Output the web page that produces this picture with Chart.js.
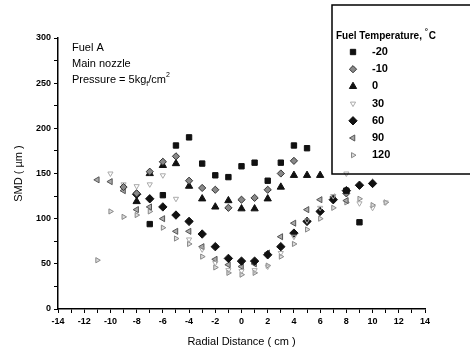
<!DOCTYPE html>
<html>
<head>
<meta charset="utf-8">
<script src="https://cdn.jsdelivr.net/npm/chart.js@4/dist/chart.umd.min.js"></script>
<style>
  body { margin: 0; background: #fff; }
  #wrap { width: 470px; height: 355px; }
</style>
</head>
<body>
<div id="wrap"><canvas id="smdChart" width="470" height="355"></canvas></div>
<script>
// series data: radial position (cm) and SMD (um) per fuel temperature
var tempLabels = ['-20', '-10', '0', '30', '60', '90', '120'];

var xM20 = [-7, -6, -5, -4, -3, -2, -1, 0, 1, 2, 3, 4, 5, 8, 9];
var yM20 = [94, 126, 181, 190, 161, 148, 146, 158, 162, 142, 162, 181, 178, 131, 96];

var xM10 = [-9, -8, -7, -6, -5, -4, -3, -2, -1, 0, 1, 2, 3, 4, 8];
var yM10 = [135, 128, 152, 163, 169, 142, 134, 132, 112, 121, 123, 132, 150, 164, 128];

var x0 = [-8, -7, -6, -5, -4, -3, -2, -1, 0, 1, 2, 3, 4, 5, 6];
var y0 = [119, 150, 159, 161, 136, 122, 113, 120, 111, 111, 122, 135, 148, 148, 148];

var x30 = [-10, -9, -8, -7, -6, -5, -4, -3, -2, -1, 0, 1, 2, 3, 4, 5, 6, 7, 8, 9, 10, 11];
var y30 = [150, 138, 136, 138, 148, 122, 77, 66, 51, 43, 42, 43, 47, 62, 80, 98, 112, 125, 150, 117, 112, 118];

var x60 = [-8, -7, -6, -5, -4, -3, -2, -1, 0, 1, 2, 3, 4, 5, 6, 7, 8, 9, 10];
var y60 = [127, 122, 113, 104, 97, 83, 69, 56, 53, 53, 60, 69, 84, 97, 108, 121, 131, 137, 139];

var x90 = [-11, -10, -9, -8, -7, -6, -5, -4, -3, -2, -1, 0, 1, 2, 3, 4, 5, 6, 7, 8];
var y90 = [143, 141, 131, 110, 113, 100, 86, 86, 69, 55, 49, 47, 50, 62, 80, 95, 110, 121, 124, 120];

var x120 = [-11, -10, -9, -8, -7, -6, -5, -4, -3, -2, -1, 0, 1, 2, 3, 4, 5, 6, 7, 8, 9, 10, 11];
var y120 = [54, 108, 102, 104, 108, 90, 78, 72, 58, 46, 40, 38, 40, 48, 58, 72, 88, 100, 112, 118, 122, 115, 118];

var xTicks = [-14, -12, -10, -8, -6, -4, -2, 0, 2, 4, 6, 8, 10, 12, 14];
var yTicks = [0, 50, 100, 150, 200, 250, 300];

function pts(xs, ys) {
  return xs.map(function (x, i) { return {x: x, y: ys[i]}; });
}

var styles = [
  {pointStyle: 'rect', radius: 3.8, bg: '#111', border: '#111', rot: 0},
  {pointStyle: 'rectRot', radius: 3.6, bg: '#888', border: '#333', rot: 0},
  {pointStyle: 'triangle', radius: 4.2, bg: '#111', border: '#111', rot: 0},
  {pointStyle: 'triangle', radius: 3, bg: 'rgba(0,0,0,0)', border: '#aaa', rot: 180},
  {pointStyle: 'rectRot', radius: 4.2, bg: '#111', border: '#111', rot: 0},
  {pointStyle: 'triangle', radius: 3.5, bg: '#aaa', border: '#555', rot: -90},
  {pointStyle: 'triangle', radius: 3, bg: '#ddd', border: '#888', rot: 90}
];

var seriesX = [xM20, xM10, x0, x30, x60, x90, x120];
var seriesY = [yM20, yM10, y0, y30, y60, y90, y120];

var datasets = tempLabels.map(function (lbl, i) {
  var s = styles[i];
  return {
    label: lbl,
    data: pts(seriesX[i], seriesY[i]),
    pointStyle: s.pointStyle,
    pointRadius: s.radius,
    pointRotation: s.rot,
    backgroundColor: s.bg,
    borderColor: s.border,
    borderWidth: 1,
    showLine: false
  };
});

var font = "'Liberation Sans', Arial, sans-serif";

// legend box and in-plot notes
var notesPlugin = {
  id: 'notes',
  afterDraw: function (chart) {
    var ctx = chart.ctx;
    ctx.save();
    ctx.fillStyle = '#000';
    ctx.textBaseline = 'middle';
    ctx.textAlign = 'left';
    ctx.font = '11px ' + font;
    ctx.fillText('Fuel A', 72, 48);
    ctx.fillText('Main nozzle', 72, 64);
    var t = 'Pressure = 5kg';
    ctx.fillText(t, 72, 80);
    var w = ctx.measureText(t).width;
    ctx.font = '7px ' + font;
    ctx.fillText('f', 72 + w, 84);
    var wf = ctx.measureText('f').width;
    ctx.font = '11px ' + font;
    ctx.fillText('/cm', 72 + w + wf, 80);
    var w2 = ctx.measureText('/cm').width;
    ctx.font = '7px ' + font;
    ctx.fillText('2', 72 + w + wf + w2, 75);

    // legend box and title
    ctx.strokeStyle = '#000';
    ctx.lineWidth = 1.5;
    ctx.strokeRect(332, 5, 150, 169);
    ctx.font = 'bold 10px ' + font;
    ctx.fillText('Fuel Temperature, ', 336, 36);
    var wt = ctx.measureText('Fuel Temperature, ').width;
    ctx.font = 'bold 8px ' + font;
    ctx.fillText('°', 336 + wt, 32);
    ctx.font = 'bold 10px ' + font;
    ctx.fillText('C', 336 + wt + 4, 36);

    // legend entries
    chart.data.datasets.forEach(function (ds, i) {
      var y = 52 + i * 17.2;
      ctx.fillStyle = ds.backgroundColor;
      ctx.strokeStyle = ds.borderColor;
      ctx.lineWidth = 1;
      Chart.helpers.drawPoint(ctx, {
        pointStyle: ds.pointStyle,
        radius: ds.pointRadius,
        rotation: ds.pointRotation,
        borderWidth: 1
      }, 353, y);
      ctx.fillStyle = '#000';
      ctx.font = 'bold 11px ' + font;
      ctx.fillText(ds.label, 372, y);
    });
    ctx.restore();
  }
};

var ctx = document.getElementById('smdChart');
var myChart = new Chart(ctx, {
  type: 'scatter',
  data: {datasets: datasets},
  options: {
    responsive: false,
    animation: false,
    layout: {padding: {left: 0, right: 45, top: 38, bottom: 0}},
    scales: {
      x: {
        type: 'linear',
        min: -14,
        max: 14,
        afterFit: function (scale) { scale.height = 46; },
        afterBuildTicks: function (scale) {
          var t = [];
          for (var v = -14; v <= 14; v++) t.push({value: v});
          scale.ticks = t;
        },
        ticks: {
          autoSkip: false,
          maxRotation: 0,
          color: '#000',
          padding: 3,
          font: {family: font, size: 9, weight: 'bold'},
          callback: function (v) { return xTicks.indexOf(v) >= 0 ? String(v) : ''; }
        },
        grid: {drawOnChartArea: false, drawTicks: true, tickLength: 4, color: '#000', tickWidth: 1},
        border: {display: true, color: '#000', width: 1.5},
        title: {
          display: true,
          text: 'Radial Distance ( cm )',
          color: '#000',
          font: {family: font, size: 11},
          padding: {top: 0, bottom: 6}
        }
      },
      y: {
        type: 'linear',
        min: 0,
        max: 300,
        afterFit: function (scale) { scale.width = 58; },
        afterBuildTicks: function (scale) {
          var t = [];
          for (var v = 0; v <= 300; v += 25) t.push({value: v});
          scale.ticks = t;
        },
        ticks: {
          autoSkip: false,
          color: '#000',
          padding: 3,
          font: {family: font, size: 9, weight: 'bold'},
          callback: function (v) { return yTicks.indexOf(v) >= 0 ? String(v) : ''; }
        },
        grid: {drawOnChartArea: false, drawTicks: true, tickLength: 4, color: '#000', tickWidth: 1},
        border: {display: true, color: '#000', width: 1.5},
        title: {
          display: true,
          text: 'SMD ( µm )',
          color: '#000',
          font: {family: font, size: 11},
          padding: {top: 12, bottom: 0}
        }
      }
    },
    plugins: {
      legend: {display: false},
      tooltip: {enabled: false}
    }
  },
  plugins: [notesPlugin]
});
</script>
</body>
</html>
